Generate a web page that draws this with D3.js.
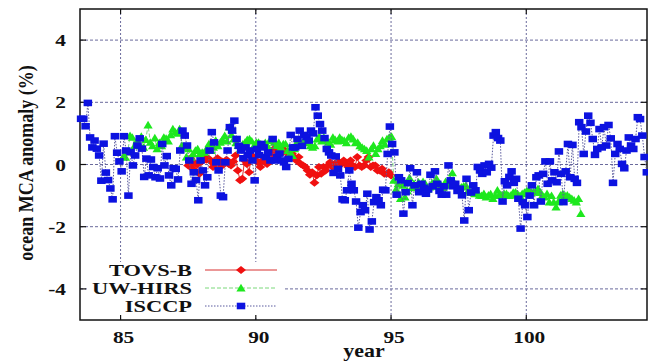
<!DOCTYPE html>
<html><head><meta charset="utf-8">
<script src="https://cdn.jsdelivr.net/npm/d3@7/dist/d3.min.js"></script>
<style>body{margin:0;background:#fff}svg{display:block}</style>
</head><body><svg id="c" width="648" height="361"></svg>
<script>
// ---- data ----
const xTicks = [85, 90, 95, 100];
const yTicks = [-4, -2, 0, 2, 4];
const seriesNames = ["TOVS-B", "UW-HIRS", "ISCCP"];

// monthly anomalies (%), first value at the given decimal year
const tovsStart = 87.5;
const tovs = [
  -0.03, 0.2, -0.14, 0.05, 0.0, -0.3,
  0.1, 0.24, 0.15, 0.19, 0.1, -0.08, 0.05, 0.2, -0.1, 0.1, 0.02, 0.15,
  0.02, -0.03, 0.1, 0.29, -0.19, -0.51, -0.46, 0.13, 0.02, -0.25, 0.29, 0.24,
  0.13, 0.07, -0.08, 0.13, 0.1, 0.02, 0.2, 0.25, 0.5, 0.4, 0.53, 0.55,
  0.39, 0.45, 0.39, 0.29, 0.35, 0.24, 0.13, 0.24, 0.02, -0.03, -0.08, -0.19,
  -0.33, -0.25, -0.59, -0.35, -0.08, -0.3, -0.08, -0.19, -0.03, 0.07, -0.08, 0.02,
  0.07, 0.07, 0.02, 0.13, 0.02, -0.08, 0.13, -0.03, -0.08, 0.24, -0.03, -0.08,
  -0.03, 0.13, 0.24, -0.08, -0.03, -0.03, -0.19, -0.19, -0.14, -0.3, -0.3, -0.25,
  -0.35
];

const hirsStart = 85.1;
const hirs = [
  0.25, 0.23, 0.4, 0.93, 0.87, 0.6, 0.75, 0.65, 0.9, 0.55, 0.8, 1.27,
  0.71, 0.6, 0.85, 0.5, 0.7, 0.6, 0.87, 0.84, 0.75, 0.95, 1.14, 1.05,
  1.0, 1.14, 0.61, 0.55, 0.24, 0.5, 0.23, 0.34, 0.45, 0.5, 0.34, 0.39,
  0.39, 0.5, 0.66, 0.45, 0.55, 0.77, 0.6, 0.71, 0.8, 0.93, 0.75, 1.2,
  0.95, 0.82, 0.7, 0.61, 0.5, 0.65, 0.71, 0.8, 0.82, 0.75, 0.6, 0.71,
  0.71, 0.65, 0.61, 0.7, 0.6, 0.77, 0.8, 0.71, 0.61, 0.7, 0.55, 0.66,
  0.66, 0.45, 0.35, 0.29, 0.5, 0.71, 0.8, 0.65, 0.75, 0.82, 0.7, 0.6,
  0.55, 0.6, 0.82, 0.9, 0.75, 0.87, 0.8, 0.71, 0.65, 0.87, 0.8, 0.75,
  0.87, 0.8, 0.77, 0.7, 0.87, 0.9, 0.82, 0.7, 0.71, 0.6, 0.55, 0.5,
  0.45, 0.24, 0.5, 0.61, 0.35, 0.5, 0.6, 0.77, 0.65, 0.82, 0.87, 0.9,
  -0.51, -0.8, -0.62, -1.1, -0.67, -1.05, -0.85, -0.43, -0.75, -0.62, -0.7, -0.57,
  -0.67, -0.55, -0.62, -0.8, -0.73, -0.6, -0.7, -0.46, -0.6, -0.67, -0.75, -0.55,
  -0.67, -0.5, -0.27, -0.6, -0.67, -0.8, -0.73, -0.7, -0.67, -0.85, -0.89, -0.9,
  -0.94, -0.9, -0.99, -1.0, -0.94, -1.05, -0.99, -0.95, -1.1, -1.0, -0.83, -0.95,
  -0.99, -0.95, -0.94, -1.0, -0.99, -0.9, -0.89, -0.95, -1.0, -0.94, -0.9, -0.85,
  -0.83, -0.9, -0.89, -0.85, -0.78, -0.9, -0.99, -1.05, -0.94, -1.21, -1.0, -1.21,
  -1.37, -1.2, -0.99, -0.94, -1.0, -0.99, -1.05, -1.1, -1.15, -1.21, -1.1, -1.58
];

const isccpStart = 83.54;
const isccp = [
  1.47, 1.47, 1.23, 1.98, 0.87, 0.55,
  0.77, 0.51, 0.29, -0.52, 0.67, -0.26, -0.5, -0.77, -1.12, 0.91, 0.38, 0.1,
  -0.22, 0.91, 0.45, -1.0, 0.4, -0.03, 0.29, 0.61, 0.84, 0.51, -0.4, 0.19,
  -0.35, 0.16, -0.08, -0.41, -0.12, -0.45, 0.66, -0.03, 0.27, -0.35, -0.67, -0.12,
  -0.14, -0.48, 0.45, 1.09, 0.93, 0.61, 0.13, -0.62, -0.25, -0.5, -1.15, 0.13,
  -0.19, -0.67, -0.41, 0.45, 1.04, 0.71, 0.07, -0.19, -1.0, -1.05, 0.07, 0.45,
  1.2, 1.09, 1.41, 0.82, 0.6, 0.45, 0.2, 0.55, 0.3, 0.45, 0.13, -0.51,
  0.5, 0.3, 0.66, 0.55, 0.24, 0.39, 0.13, 0.82, 0.13, 0.24, 0.35, 0.13,
  0.07, -0.08, 0.18, 0.95, 0.55, 0.55, 0.82, 1.09, 0.6, 0.95, 0.88, 0.77,
  1.09, 1.0, 1.84, 1.57, 1.3, 1.09, 0.85, 0.5, 0.39, 0.29, -0.27, 0.26,
  -0.14, -0.35, -1.12, -1.15, -0.83, -0.19, -0.62, -0.83, -1.19, -2.03, -1.53, -1.31,
  -1.47, -0.94, -2.09, -1.83, -1.21, -1.05, -1.15, -1.31, -0.81, -0.83, 0.34, 1.22,
  0.66, 0.39, -0.97, -0.41, -0.51, -1.58, -0.89, -0.6, -0.12, -1.31, -0.67, -0.25,
  -0.89, -0.62, -0.75, -0.94, -0.8, -0.33, -0.7, -0.22, -0.62, -0.85, -0.97, -0.7,
  -0.97, -0.03, -0.51, -0.7, -0.62, -0.85, -0.78, -0.99, -1.8, -0.46, -1.47, -0.9,
  -0.67, -0.83, -0.08, -0.19, -0.3, -0.03, -0.25, 0.02, -0.1, 0.93, 1.04, 0.85,
  0.77, -1.19, -0.54, -0.67, -0.4, -0.22, -0.59, -0.46, -1.1, -2.06, -1.21, -1.31,
  -1.69, -1.0, -0.67, -1.31, -0.41, -0.35, -1.19, -0.3, 0.1, -0.62, 0.1, -0.51,
  -0.25, -0.57, 0.42, -0.3, -1.21, -0.22, 0.66, -0.41, 0.63, -0.46, -0.59, 1.36,
  1.2, 0.34, 1.06, 1.57, 1.34, 0.82, 0.31, 0.5, 1.14, 0.55, 1.2, 0.61,
  1.27, 0.84, -0.59, 0.34, 0.66, 0.5, 0.02, -0.12, 0.45, 0.87, 0.61, 0.5,
  0.82, 1.52, 1.46, 0.93, 0.24, -0.25
];

// ---- drawing ----
const svg = d3.select("#c");
const x = d3.scaleLinear().domain([83.5, 104.5]).range([80, 648]);
const y = d3.scaleLinear().domain([-5, 5]).range([320, 9]);
const L = 80, R = 647, T = 9, B = 320;
const SX = 1.22; // horizontal stretch of the lettering
const FONT = "'Liberation Serif', 'Times New Roman', serif";
const gridCol = "#6a6a9c";

svg.append("rect").attr("width", 648).attr("height", 361).attr("fill", "#fff");

// grid
svg.append("g").selectAll("line").data(xTicks).join("line")
  .attr("x1", d => x(d)).attr("x2", d => x(d)).attr("y1", T).attr("y2", B)
  .attr("stroke", gridCol).attr("stroke-width", 1).attr("stroke-dasharray", "2,2");
svg.append("g").selectAll("line").data(yTicks).join("line")
  .attr("x1", L).attr("x2", R).attr("y1", d => y(d)).attr("y2", d => y(d))
  .attr("stroke", gridCol).attr("stroke-width", 1).attr("stroke-dasharray", "3,2");

// legend background box
svg.append("rect").attr("x", 87).attr("y", 262).attr("width", 198).attr("height", 56).attr("fill", "#fff");

// frame & ticks
svg.append("rect").attr("x", L).attr("y", T).attr("width", R - L).attr("height", B - T)
  .attr("fill", "none").attr("stroke", "#111").attr("stroke-width", 1.5);
const tk = svg.append("g").attr("stroke", "#111").attr("stroke-width", 1.2);
xTicks.forEach(t => {
  tk.append("line").attr("x1", x(t)).attr("x2", x(t)).attr("y1", B).attr("y2", B - 5);
  tk.append("line").attr("x1", x(t)).attr("x2", x(t)).attr("y1", T).attr("y2", T + 5);
});
yTicks.forEach(t => {
  tk.append("line").attr("x1", L).attr("x2", L + 6).attr("y1", y(t)).attr("y2", y(t));
  tk.append("line").attr("x1", R).attr("x2", R - 6).attr("y1", y(t)).attr("y2", y(t));
});

function stxt(px, py, str, size, anchor, extra, sx) {
  return svg.append("text")
    .attr("transform", `translate(${px},${py}) scale(${sx || SX},1)` + (extra || ""))
    .attr("text-anchor", anchor).attr("font-family", FONT).attr("font-weight", "bold")
    .attr("font-size", size).attr("fill", "#111").text(str);
}
xTicks.forEach(t => stxt(x(t) + 3, 343, String(t), 17.5, "middle"));
yTicks.forEach(t => stxt(66, y(t) + 6, String(t), 17.5, "end"));
stxt(364, 357, "year", 18, "middle");
stxt(33, 163, "ocean MCA anomaly (%)", 18, "middle", " rotate(-90)");

// marker shapes
const diamond = "M0,-4L5,0L0,4L-5,0Z";
const triangle = "M0,-4.2L4.6,3.4L-4.6,3.4Z";
const square = "M-4.25,-3.3H4.25V3.3H-4.25Z";

const series = [
  {name: seriesNames[0], start: tovsStart, vals: tovs, fill: "#f01010", line: "#d83030", dash: null, shape: diamond},
  {name: seriesNames[1], start: hirsStart, vals: hirs, fill: "#1ee81e", line: "#7ad87a", dash: "4,2", shape: triangle},
  {name: seriesNames[2], start: isccpStart, vals: isccp, fill: "#0c12e0", line: "#5a5a9e", dash: "1.5,1.5", shape: square}
];

series.forEach(s => {
  const pts = s.vals.map((v, i) => [s.start + i / 12, v]);
  const line = d3.line().x(d => x(d[0])).y(d => y(d[1]));
  svg.append("path").attr("d", line(pts)).attr("fill", "none")
    .attr("stroke", s.line).attr("stroke-width", 1)
    .attr("stroke-dasharray", s.dash);
  svg.append("g").selectAll("path").data(pts).join("path")
    .attr("transform", d => `translate(${x(d[0])},${y(d[1])})`)
    .attr("d", s.shape).attr("fill", s.fill);
});

// legend
const legY = [270, 288, 306];
series.forEach((s, i) => {
  stxt(192, legY[i] + 5.5, s.name, 16, "end", "", 1.4);
  svg.append("line").attr("x1", 205).attr("x2", 277).attr("y1", legY[i]).attr("y2", legY[i])
    .attr("stroke", s.line).attr("stroke-width", 1).attr("stroke-dasharray", s.dash);
  svg.append("path").attr("transform", `translate(241,${legY[i]})`).attr("d", s.shape).attr("fill", s.fill);
});
</script>
</body></html>
